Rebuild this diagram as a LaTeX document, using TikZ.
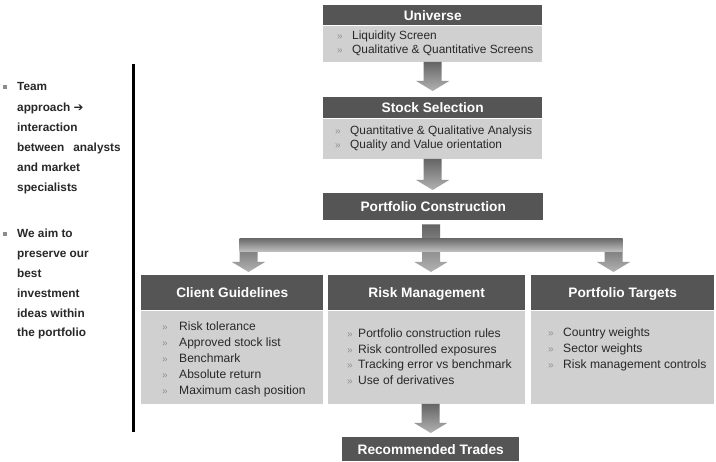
\documentclass[tikz,border=0pt]{standalone}
\usepackage{fontspec}
\setmainfont{Liberation Sans}
\newfontfamily\symfont{DejaVu Sans}
\usetikzlibrary{calc}
\definecolor{hdrc}{RGB}{85,85,85}
\definecolor{litec}{RGB}{208,208,208}
\definecolor{txtc}{RGB}{40,40,40}
\definecolor{bulc}{RGB}{145,145,145}
\definecolor{sqc}{RGB}{140,140,140}
\definecolor{arrtop}{RGB}{100,100,100}
\definecolor{arrbot}{RGB}{178,178,178}
\definecolor{bartop}{RGB}{110,110,110}
\definecolor{barbot}{RGB}{195,195,195}
\tikzset{
 hdr/.style={fill=hdrc, text=white, font=\fontsize{13.7}{16}\selectfont\bfseries, inner sep=0pt, anchor=north west, text height=9.8pt, text depth=0pt},
 litebox/.style={fill=litec, inner sep=0pt, anchor=north west},
 itm/.style={text=txtc, font=\fontsize{11.9}{14}\selectfont, inner sep=0pt, anchor=base west},
 itmb/.style={text=txtc, font=\fontsize{12.1}{14}\selectfont, inner sep=0pt, anchor=base west},
 bulm/.style={text=bulc, font=\fontsize{10}{12}\selectfont, inner sep=0pt, anchor=base west},
 lefttxt/.style={text=txtc, font=\fontsize{11.8}{14}\selectfont\bfseries, inner sep=0pt, anchor=base west},
 sqbul/.style={fill=sqc, minimum size=3.5pt, inner sep=0pt},
 arrowfill/.style={top color=arrtop, bottom color=arrbot, draw=none},
 barfill/.style={top color=bartop, bottom color=barbot, draw=none},
}
% fat vertical arrow: #1 stem top, #2 tip
\newcommand{\fatarrow}[2]{%
 \path[arrowfill] let \p1=(#1), \p2=(#2) in
   (\x1-9pt,\y1) -- (\x1+9pt,\y1) -- (\x1+9pt,\y2+10pt) -- (\x1+16.5pt,\y2+10pt)
   -- (\x1,\y2) -- (\x1-16.5pt,\y2+10pt) -- (\x1-9pt,\y2+10pt) -- cycle;}
\begin{document}
\begin{tikzpicture}[x=1pt,y=-1pt]
\useasboundingbox[fill=white] (0,0) rectangle (716,462);

% ---- top column ----
\node[hdr, minimum width=219pt, minimum height=20pt] (uniH) at (323,5) {Universe};
\node[litebox, minimum width=219pt, minimum height=36pt] (uniB) at (uniH.south west) {};
\foreach \t [count=\i from 0] in {Liquidity Screen, Qualitative \& Quantitative Screens}{
  \node[bulm] (ub\i) at (337,40+14*\i) {»};
  \node[itm] (ut\i) at (352,40+14*\i) {\t};
}

\node[hdr, minimum width=219pt, minimum height=21pt] (stkH) at (323,97) {Stock Selection};
\node[litebox, minimum width=219pt, minimum height=40pt] (stkB) at (stkH.south west) {};
\foreach \t [count=\i from 0] in {Quantitative \& Qualitative Analysis, Quality and Value orientation}{
  \node[bulm] (sb\i) at (335,135+14*\i) {»};
  \node[itm] (st\i) at (350,135+14*\i) {\t};
}

\node[hdr, minimum width=220pt, minimum height=27pt] (pcH) at (323,193) {Portfolio Construction};

% ---- lower boxes ----
\node[hdr, minimum width=182pt, minimum height=35pt] (cgH) at (141,275) {Client Guidelines};
\node[litebox, minimum width=182pt, minimum height=93pt] (cgB) at (cgH.south west) {};
\foreach \t [count=\i from 0] in {Risk tolerance, Approved stock list, Benchmark, Absolute return, Maximum cash position}{
  \node[bulm] (cb\i) at (162,331+16*\i) {»};
  \node[itmb] (ct\i) at (179,331+16*\i) {\t};
}

\node[hdr, minimum width=197pt, minimum height=35pt] (rmH) at (328,275) {Risk Management};
\node[litebox, minimum width=197pt, minimum height=93pt] (rmB) at (rmH.south west) {};
\foreach \t [count=\i from 0] in {Portfolio construction rules, Risk controlled exposures, Tracking error vs benchmark, Use of derivatives}{
  \node[bulm] (rb\i) at (347,337.5+15.6*\i) {»};
  \node[itmb] (rt\i) at (358,337.5+15.6*\i) {\t};
}

\node[hdr, minimum width=183pt, minimum height=35pt] (ptH) at (531,275) {Portfolio Targets};
\node[litebox, minimum width=183pt, minimum height=93pt] (ptB) at (ptH.south west) {};
\foreach \t [count=\i from 0] in {Country weights, Sector weights, Risk management controls}{
  \node[bulm] (pb\i) at (548,337+15.6*\i) {»};
  \node[itmb] (pt\i) at (563,337+15.6*\i) {\t};
}

\node[hdr, minimum width=177pt, minimum height=24pt] (rtH) at (342,437) {Recommended Trades};

% ---- arrows ----
\fatarrow{uniB.south}{$(stkH.north -| uniB.south)+(0,-6)$}
\fatarrow{stkB.south}{$(pcH.north -| stkB.south)+(0,-3)$}

\coordinate (brL) at (248.5,239);
\coordinate (brM) at (431,239);
\coordinate (brR) at (613.5,239);
\fatarrow{brL}{$(cgH.north -| brL)+(0,-3)$}
\fatarrow{brR}{$(ptH.north -| brR)+(0,-3)$}
\fatarrow{$(pcH.south -| brM)+(0,4)$}{$(rmH.north -| brM)+(0,-3)$}
\path[barfill] ($(brL)+(-9,0)$) rectangle ($(brR)+(9,13)$);
\fatarrow{$(rmB.south -| rtH.north)$}{$(rtH.north)+(0,-4)$}

% ---- left text ----
\draw[line width=2.5pt] (133.5,64) coordinate (vtop) -- (133.5,432) coordinate (vbot);
\node[sqbul] (sq1) at (5,87) {};
\foreach \t [count=\i from 0] in {Team, approach {\symfont\bfseries ➔}, interaction, between\hspace{9pt}analysts, and market, specialists}{
  \node[lefttxt] (la\i) at (17,91+20.1*\i) {\t};
}
\node[sqbul] (sq2) at (5,234) {};
\foreach \t [count=\i from 0] in {We aim to, preserve our, best, investment, ideas within, the portfolio}{
  \node[lefttxt] (lb\i) at (17,238+19.8*\i) {\t};
}
\end{tikzpicture}
\end{document}
